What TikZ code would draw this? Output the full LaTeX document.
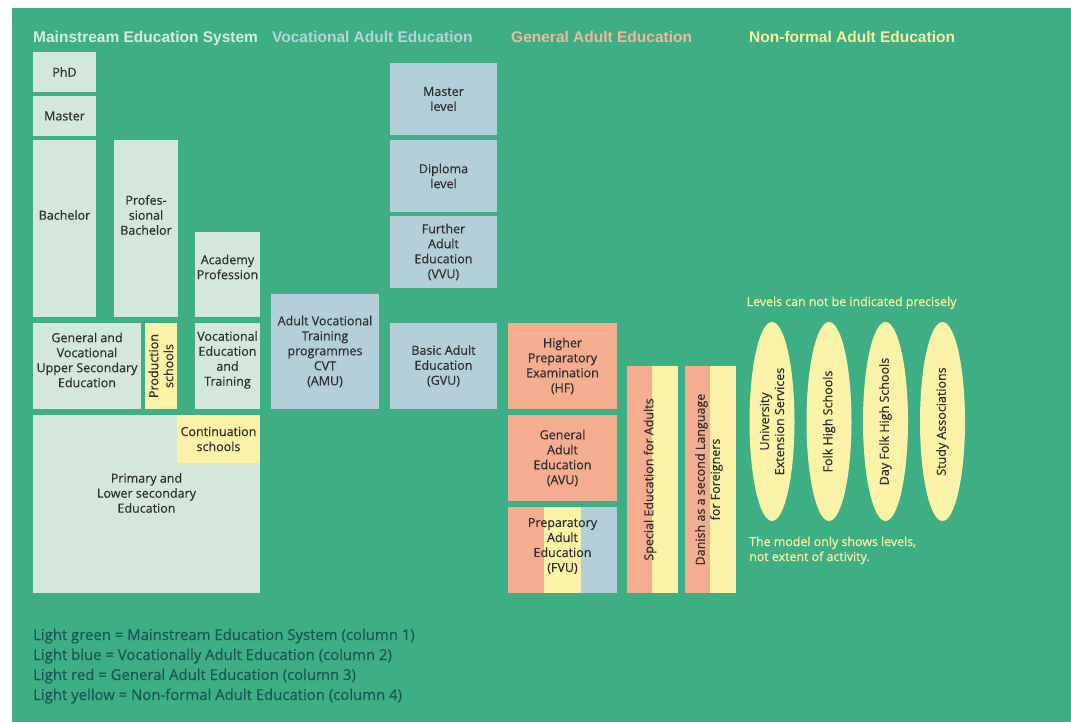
\documentclass[tikz,border=0pt]{standalone}
\usepackage{fontspec}
\setmainfont{Open Sans}[FakeBold=0.35]
\newfontfamily\headfont{Liberation Sans}
\newfontfamily\notefont{Open Sans}[FakeBold=0.9]
\usetikzlibrary{shapes.geometric}
\definecolor{EDGreen}{HTML}{3EAE84}
\definecolor{EDMint}{HTML}{D4E7DD}
\definecolor{EDBlue}{HTML}{B3CFDA}
\definecolor{EDSalmon}{HTML}{F4AD8F}
\definecolor{EDYellow}{HTML}{FAF2A6}
\definecolor{EDText}{HTML}{2E2E2E}
\definecolor{EDLegend}{HTML}{1A5557}
\definecolor{EDMintHead}{HTML}{D6EEDF}
\definecolor{EDBlueHead}{HTML}{B6D4DC}
\definecolor{EDSalmonHead}{HTML}{F3B79C}
\definecolor{EDYellowHead}{HTML}{F7F0A2}

\tikzset{
  cell/.style={rectangle,inner sep=0pt,align=center,text=EDText,
    font=\fontsize{12.5}{15}\selectfont},
  mintcell/.style={cell,fill=EDMint},
  bluecell/.style={cell,fill=EDBlue},
  redcell/.style={cell,fill=EDSalmon},
  yellowcell/.style={cell,fill=EDYellow},
  celltext/.style={cell,fill=none},
  oval/.style={ellipse,inner sep=0pt,fill=EDYellow,rotate=90,
    minimum width=199,minimum height=45,align=center,text=EDText,
    font=\fontsize{12.5}{15}\selectfont},
  head/.style={anchor=base west,inner sep=0pt,font=\headfont\bfseries\fontsize{15.5}{18}\selectfont},
  legend/.style={anchor=base west,inner sep=0pt,text=EDLegend,font=\fontsize{14.9}{18}\selectfont},
  note/.style={anchor=base west,inner sep=0pt,align=left,text=EDYellowHead,font=\notefont\fontsize{12.4}{15}\selectfont}
}

\begin{document}
\begin{tikzpicture}[x=1pt,y=-1pt]
\path[use as bounding box] (0,0) rectangle (1071,722);
\fill[white] (0,0) rectangle (1071,722);
\fill[EDGreen] (12,8) rectangle (1071,722);

% column headings
\node[head,text=EDMintHead] (h-main) at (33,42.5) {Mainstream Education System};
\node[head,text=EDBlueHead] (h-voc) at (272,42.5) {Vocational Adult Education};
\node[head,text=EDSalmonHead] (h-gen) at (511,42.5) {General Adult Education};
\node[head,text=EDYellowHead] (h-nf) at (749,42.5) {Non-formal Adult Education};

% mainstream education system
\node[mintcell,minimum width=63,minimum height=40] (phd) at (64.5,72) {PhD};
\node[mintcell,minimum width=63,minimum height=40] (master) at (64.5,116) {Master};
\node[mintcell,minimum width=63,minimum height=177] (bachelor) at (64.5,228.5) {};
\node[celltext] (bachelor-t) at (64.5,215) {Bachelor};
\node[mintcell,minimum width=64,minimum height=177] (profbach) at (146,228.5) {};
\node[celltext] (profbach-t) at (146,215) {Profes-\\sional\\Bachelor};
\node[mintcell,minimum width=65,minimum height=85] (academy) at (227.5,274.5) {};
\node[celltext] (academy-t) at (227.5,267) {Academy\\Profession};
\node[mintcell,minimum width=108,minimum height=86] (upsec) at (87,366) {};
\node[celltext] (upsec-t) at (87,360) {General and\\Vocational\\Upper Secondary\\Education};
\node[yellowcell,rotate=90,minimum width=86,minimum height=32] (prodschool) at (161,366) {Production\\schools};
\node[mintcell,minimum width=65,minimum height=86] (vet) at (227.5,366) {};
\node[celltext] (vet-t) at (227.5,360) {Vocational\\Education\\and\\Training};
\node[mintcell,minimum width=227,minimum height=178] (primary) at (146.5,504) {};
\node[celltext] (primary-t) at (146.5,493) {Primary and\\Lower secondary\\Education};
\node[yellowcell,minimum width=83,minimum height=48] (contschool) at (218.5,439) {Continuation\\schools};

% vocational adult education
\node[bluecell,minimum width=108,minimum height=115] (amu) at (325,351.5) {Adult Vocational\\Training\\programmes\\CVT\\(AMU)};
\node[bluecell,minimum width=107,minimum height=72] (masterlvl) at (443.5,99) {Master\\level};
\node[bluecell,minimum width=107,minimum height=72] (diploma) at (443.5,176) {Diploma\\level};
\node[bluecell,minimum width=107,minimum height=72] (vvu) at (443.5,252) {Further\\Adult\\Education\\(VVU)};
\node[bluecell,minimum width=107,minimum height=86] (gvu) at (443.5,366) {Basic Adult\\Education\\(GVU)};

% general adult education
\node[redcell,minimum width=109,minimum height=86] (hf) at (562.5,366) {Higher\\Preparatory\\Examination\\(HF)};
\node[redcell,minimum width=109,minimum height=86] (avu) at (562.5,458) {General\\Adult\\Education\\(AVU)};
\node[redcell,minimum width=36,minimum height=86] (fvu-a) at (526,550) {};
\node[yellowcell,minimum width=37,minimum height=86] (fvu-b) at (562.5,550) {};
\node[bluecell,minimum width=36,minimum height=86] (fvu-c) at (599,550) {};
\node[celltext] (fvu-t) at (562.5,546) {Preparatory\\Adult\\Education\\(FVU)};
\node[redcell,minimum width=24.5,minimum height=227] (special-a) at (639.25,479.5) {};
\node[yellowcell,minimum width=26.5,minimum height=227] (special-b) at (664.75,479.5) {};
\node[celltext,rotate=90] (special-t) at (650,479.5) {Special Education for Adults};
\node[redcell,minimum width=25,minimum height=227] (danish-a) at (697.5,479.5) {};
\node[yellowcell,minimum width=26,minimum height=227] (danish-b) at (723,479.5) {};
\node[celltext,rotate=90] (danish-t) at (709,479.5) {Danish as a second Language\\for Foreigners};

% non-formal adult education
\node[note] (levels) at (746.5,306) {Levels can not be indicated precisely};
\node[oval] (univ) at (772,421.5) {University\\Extension Services};
\node[oval] (folkhigh) at (829,421.5) {Folk High Schools};
\node[oval] (dayfolk) at (885.5,421.5) {Day Folk High Schools};
\node[oval] (study) at (942.5,421.5) {Study Associations};
\node[note] (model) at (749,561) {The model only shows levels,\\not extent of activity.};

% colour key
\node[legend] (key-1) at (33,640) {Light green = Mainstream Education System (column 1)};
\node[legend] (key-2) at (33,660) {Light blue = Vocationally Adult Education (column 2)};
\node[legend] (key-3) at (33,680) {Light red = General Adult Education (column 3)};
\node[legend] (key-4) at (33,700) {Light yellow = Non-formal Adult Education (column 4)};
\end{tikzpicture}
\end{document}
